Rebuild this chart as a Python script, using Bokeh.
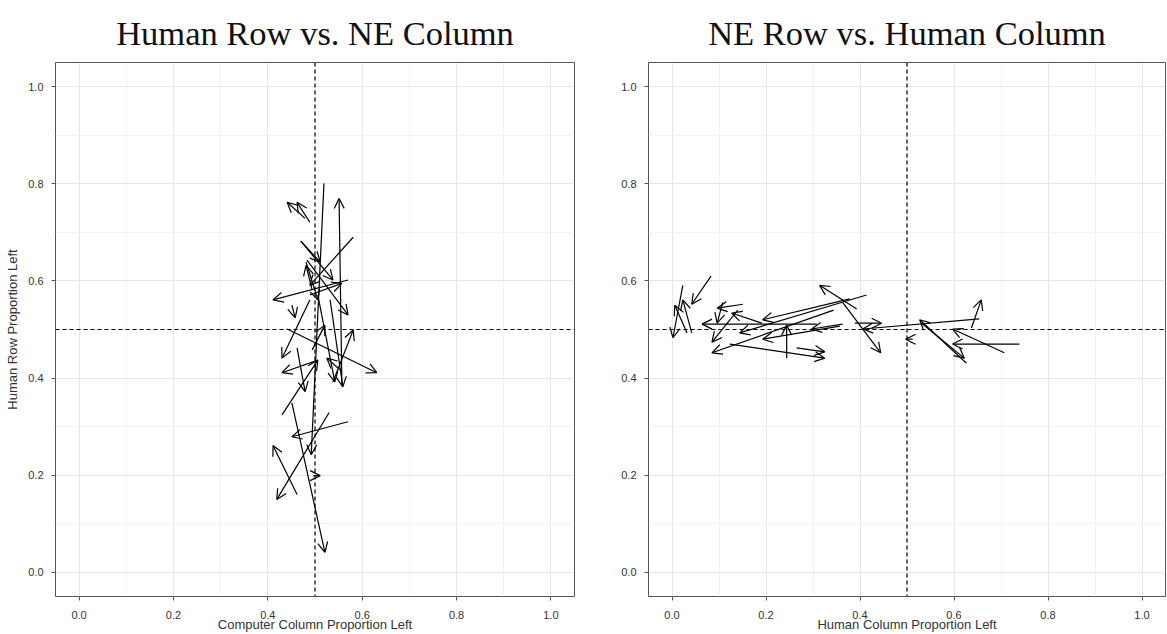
from bokeh.plotting import figure
from bokeh.models import Arrow, OpenHead, ColumnDataSource, Span, FixedTicker, Range1d, NumeralTickFormatter
from bokeh.layouts import row
from bokeh.embed import file_html
from bokeh.resources import INLINE

# ---------------- data ----------------
tick_values = [0.0, 0.2, 0.4, 0.6, 0.8, 1.0]
minor_values = [0.1, 0.3, 0.5, 0.7, 0.9]

# Left panel: Human Row vs. NE Column (start -> end of each arrow)
left_x0 = [0.519, 0.557, 0.479, 0.489, 0.581, 0.470, 0.470, 0.483, 0.570, 0.481,
           0.494, 0.451, 0.489, 0.441, 0.532, 0.538, 0.506, 0.462, 0.430, 0.451,
           0.570, 0.530, 0.462, 0.496, 0.494, 0.553, 0.506, 0.489]
left_y0 = [0.801, 0.386, 0.729, 0.721, 0.690, 0.682, 0.682, 0.643, 0.602, 0.639,
           0.581, 0.550, 0.561, 0.501, 0.561, 0.392, 0.437, 0.462, 0.324, 0.349,
           0.310, 0.329, 0.160, 0.199, 0.458, 0.417, 0.571, 0.571]
left_x1 = [0.492, 0.551, 0.441, 0.462, 0.489, 0.511, 0.538, 0.570, 0.411, 0.506,
           0.481, 0.458, 0.430, 0.631, 0.559, 0.581, 0.430, 0.479, 0.506, 0.521,
           0.451, 0.419, 0.411, 0.511, 0.521, 0.525, 0.542, 0.557]
left_y1 = [0.242, 0.770, 0.762, 0.762, 0.591, 0.639, 0.602, 0.530, 0.561, 0.561,
           0.632, 0.524, 0.441, 0.411, 0.382, 0.499, 0.411, 0.372, 0.437, 0.041,
           0.279, 0.150, 0.261, 0.199, 0.509, 0.441, 0.392, 0.595]

# Right panel: NE Row vs. Human Column
right_x0 = [0.083, 0.023, 0.032, 0.042, 0.151, 0.108, 0.308, 0.191, 0.140, 0.378,
            0.414, 0.244, 0.123, 0.265, 0.344, 0.393, 0.363, 0.363, 0.389, 0.654,
            0.637, 0.512, 0.626, 0.531, 0.707, 0.739, 0.357]
right_y0 = [0.610, 0.591, 0.493, 0.493, 0.552, 0.556, 0.511, 0.513, 0.540, 0.563,
            0.571, 0.441, 0.470, 0.462, 0.540, 0.542, 0.556, 0.511, 0.513, 0.522,
            0.503, 0.480, 0.431, 0.513, 0.452, 0.470, 0.507]
right_x1 = [0.042, 0.002, 0.006, 0.023, 0.096, 0.096, 0.064, 0.127, 0.085, 0.193,
            0.144, 0.244, 0.325, 0.325, 0.085, 0.314, 0.444, 0.297, 0.446, 0.406,
            0.658, 0.497, 0.527, 0.622, 0.597, 0.597, 0.193]
right_y1 = [0.552, 0.483, 0.550, 0.561, 0.544, 0.513, 0.511, 0.534, 0.474, 0.520,
            0.493, 0.509, 0.441, 0.454, 0.452, 0.591, 0.452, 0.501, 0.513, 0.501,
            0.561, 0.480, 0.520, 0.441, 0.501, 0.470, 0.480]

titles = ["Human Row vs. NE Column", "NE Row vs. Human Column"]
x_labels = ["Computer Column Proportion Left", "Human Column Proportion Left"]
y_labels = ["Human Row Proportion Left", None]
ref_value = 0.5

BORDER = "#555555"
TEXT = "#333333"
HEIGHT = 634


def make_panel(title, xs0, ys0, xs1, ys1, xlabel, ylabel, width, bl, br):
    p = figure(width=width, height=HEIGHT,
               x_range=Range1d(-0.05, 1.05), y_range=Range1d(-0.05, 1.05),
               output_backend="svg", toolbar_location=None, title=title,
               min_border_left=bl, min_border_right=br,
               min_border_top=62, min_border_bottom=37)
    p.background_fill_color = "white"
    p.border_fill_color = "white"
    p.outline_line_color = BORDER
    p.outline_line_width = 1

    p.title.text_font = "Liberation Serif"
    p.title.text_font_size = "34.5px"
    p.title.text_font_style = "normal"
    p.title.text_line_height = 1.0
    p.title.align = "center"
    p.title.text_color = "#111111"
    p.title.standoff = 22

    for ax in (p.xaxis[0], p.yaxis[0]):
        ax.ticker = FixedTicker(ticks=tick_values, minor_ticks=minor_values)
        ax.formatter = NumeralTickFormatter(format="0.0")
        ax.axis_line_color = None
        ax.major_tick_line_color = BORDER
        ax.major_tick_in = 0
        ax.major_tick_out = 4
        ax.minor_tick_line_color = None
        ax.major_label_text_font = "Liberation Sans"
        ax.major_label_text_font_size = "11px"
        ax.major_label_text_color = TEXT
        ax.axis_label_text_font = "Liberation Sans"
        ax.axis_label_text_font_size = "13px"
        ax.axis_label_text_font_style = "normal"
        ax.axis_label_text_color = TEXT

    p.xaxis.axis_label = xlabel
    p.xaxis.major_label_standoff = 10
    p.xaxis.axis_label_standoff = -5
    if ylabel:
        p.yaxis.axis_label = ylabel
        p.yaxis.axis_label_standoff = 5
    p.yaxis.major_label_standoff = 8

    p.grid.ticker = FixedTicker(ticks=tick_values, minor_ticks=minor_values)
    p.grid.grid_line_color = "#E6E6E6"
    p.grid.grid_line_width = 1
    p.grid.minor_grid_line_color = "#F2F2F2"
    p.grid.minor_grid_line_width = 1

    p.add_layout(Span(location=ref_value, dimension="height", line_color="black",
                      line_dash="4 3", line_width=1.2))
    p.add_layout(Span(location=ref_value, dimension="width", line_color="black",
                      line_dash="4 3", line_width=1.2))

    src = ColumnDataSource(dict(x0=xs0, y0=ys0, x1=xs1, y1=ys1))
    p.add_layout(Arrow(end=OpenHead(size=10, line_width=1.2, line_color="black"),
                       x_start="x0", y_start="y0", x_end="x1", y_end="y1",
                       source=src, line_width=1.2, line_color="black"))
    return p


p1 = make_panel(titles[0], left_x0, left_y0, left_x1, left_y1,
                x_labels[0], y_labels[0], 600, 55, 26)
p2 = make_panel(titles[1], right_x0, right_y0, right_x1, right_y1,
                x_labels[1], y_labels[1], 566, 48, 1)

layout = row(p1, p2)
open("out.html", "w").write(file_html(layout, INLINE))
